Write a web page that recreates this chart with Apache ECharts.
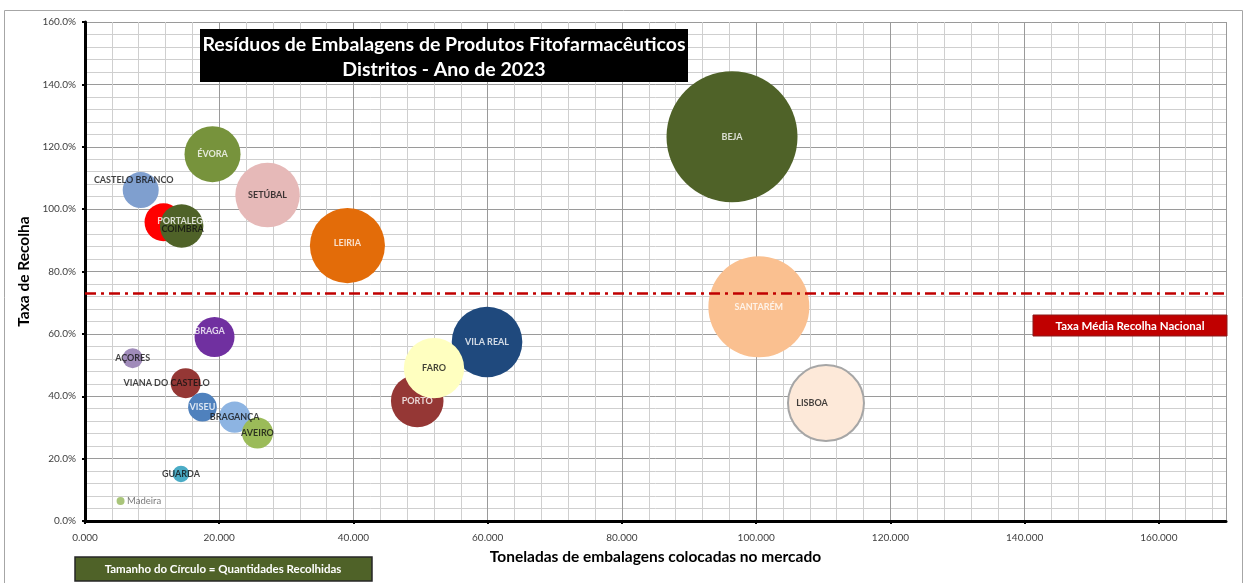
<!DOCTYPE html>
<html>
<head>
<meta charset="utf-8">
<script src="https://cdn.jsdelivr.net/npm/echarts@6/dist/echarts.min.js"></script>
<style>
html,body{margin:0;padding:0;background:#fff;}
#chart{width:1247px;height:583px;}
</style>
</head>
<body>
<div id="chart"></div>
<script>
// ---- data ----
const distritos = ['Madeira','GUARDA','AÇORES','CASTELO BRANCO','PORTALEGRE','COIMBRA','ÉVORA','SETÚBAL','BRAGA','VIANA DO CASTELO','VISEU','BRAGANÇA','AVEIRO','LEIRIA','PORTO','VILA REAL','FARO','BEJA','SANTARÉM','LISBOA'];
const colocadas = [5.3,14.3,7.1,8.3,11.7,14.4,19.0,27.2,19.3,15.0,17.5,22.3,25.7,39.1,49.5,59.9,52.0,96.4,100.4,110.4];
const taxaRecolha = [6.4,15.1,52.2,106.1,95.8,94.6,117.6,104.5,59.0,44.2,36.5,33.3,28.2,88.3,38.5,57.4,49.0,123.2,68.7,37.8];
const recolhidas = [0.44,1.9,2.8,9.0,10.0,13.1,21.8,28.9,11.1,6.25,5.7,6.8,6.7,39.1,19.2,34.6,25.3,119.2,70.8,40.1];
const taxaMediaNacional = 73.1;
const xTickStep = 20, xMinorStep = 4, xMax = 170;
const yTickStep = 20, yMinorStep = 4, yMax = 160;

// ---- styles ----
const cores = {
  'Madeira':'#A9C57A','GUARDA':'#4BACC6','AÇORES':'#A08BBA','CASTELO BRANCO':'#7F9FCF',
  'PORTALEGRE':'#FF0000','COIMBRA':'#4F6228','ÉVORA':'#77933C','SETÚBAL':'#E6B9B8',
  'BRAGA':'#7030A0','VIANA DO CASTELO':'#953735','VISEU':'#4F81BD','BRAGANÇA':'#8DB4E2',
  'AVEIRO':'#9BBB59','LEIRIA':'#E36C09','PORTO':'#953735','VILA REAL':'#1F497D',
  'FARO':'#FFFFC0','BEJA':'#4F6228','SANTARÉM':'#FAC090','LISBOA':'#FDE9D9'
};
const brancos = ['ÉVORA','PORTALEGRE','BEJA','SANTARÉM','LEIRIA','VILA REAL','PORTO','BRAGA','VISEU'];
const desloc = {
  'CASTELO BRANCO':[-7,-10],'VIANA DO CASTELO':[-19,0],'PORTALEGRE':[22,-1],'COIMBRA':[1,3],
  'BRAGA':[-5,-6],'LISBOA':[-14,0],'LEIRIA':[0,-3]
};
const FONT = 'Lato';
const K = 6.0;

const chart = echarts.init(document.getElementById('chart'), null, {renderer:'canvas'});

const bubbleData = distritos.map((d,i)=>({
  name:d,
  value:[colocadas[i], taxaRecolha[i], recolhidas[i]],
  itemStyle: d==='LISBOA' ? {color:cores[d], opacity:1, borderColor:'#A6A6A6', borderWidth:2} : {color:cores[d], opacity:1}
}));
const labelData = distritos.map((d,i)=>{
  if (d==='Madeira') {
    return {name:d, value:[colocadas[i], taxaRecolha[i]],
      label:{show:true, position:'right', distance:6, formatter:d, color:'#595959',
        fontFamily:FONT, fontWeight:'normal', fontSize:9.5}};
  }
  return {name:d, value:[colocadas[i], taxaRecolha[i]],
    label:{show:true, position:'inside', formatter:d,
      fontFamily:FONT, fontWeight:'bold', fontSize:9,
      color: brancos.includes(d)?'#FFFFFF':'#111111'}};
});

const option = {
  animation:false,
  backgroundColor:'#fff',
  textStyle:{fontFamily:FONT},
  grid:{left:85, right:21, top:22, bottom:62, containLabel:false},
  xAxis:[
    {type:'value', min:0, max:xMax, interval:xMinorStep, position:'bottom',
     axisLine:{show:false}, axisTick:{show:false}, axisLabel:{show:false},
     splitLine:{show:true, lineStyle:{color:'#CFCFCF', width:1}}},
    {type:'value', min:0, max:xMax, interval:xTickStep, position:'bottom',
     name:'Toneladas de embalagens colocadas no mercado', nameLocation:'middle', nameGap:28,
     nameTextStyle:{fontFamily:FONT, fontWeight:'bold', fontSize:15.5, color:'#000'},
     axisLine:{show:true, onZero:false, lineStyle:{color:'#000', width:3}},
     axisTick:{show:true, length:3, lineStyle:{color:'#000', width:2}},
     axisLabel:{margin:12, fontSize:10, color:'#404040', fontFamily:FONT, showMaxLabel:false,
       formatter:v=>v.toFixed(3)},
     splitLine:{show:true, lineStyle:{color:'#9A9A9A', width:1}}}
  ],
  yAxis:[
    {type:'value', min:0, max:yMax, interval:yMinorStep,
     axisLine:{show:false}, axisTick:{show:false}, axisLabel:{show:false},
     splitLine:{show:true, lineStyle:{color:'#CFCFCF', width:1}}},
    {type:'value', min:0, max:yMax, interval:yTickStep, position:'left',
     name:'Taxa de Recolha', nameLocation:'middle', nameGap:40, nameRotate:90,
     nameTextStyle:{fontFamily:FONT, fontWeight:'bold', fontSize:15.5, color:'#000'},
     axisLine:{show:true, onZero:false, lineStyle:{color:'#000', width:3}},
     axisTick:{show:true, length:3, lineStyle:{color:'#000', width:2}},
     axisLabel:{margin:9, fontSize:10, color:'#404040', fontFamily:FONT,
       formatter:v=>v.toFixed(1)+'%'},
     splitLine:{show:true, lineStyle:{color:'#9A9A9A', width:1}}}
  ],
  series:[
    {type:'scatter', xAxisIndex:1, yAxisIndex:1, z:2,
     symbol:'circle', symbolSize:v=>2*K*Math.sqrt(v[2]),
     data:bubbleData, label:{show:false},
     markLine:{silent:true, symbol:'none', label:{show:false},
       lineStyle:{color:'#C00000', width:2.5, type:[11,5,3,5]},
       data:[{yAxis:taxaMediaNacional}]}},
    {type:'scatter', xAxisIndex:1, yAxisIndex:1, z:4,
     symbolSize:1, itemStyle:{color:'rgba(0,0,0,0)'},
     labelLayout:function(p){
       const o = desloc[distritos[p.dataIndex]] || [0,0];
       return {dx:o[0], dy:o[1], hideOverlap:false};
     },
     data:labelData}
  ],
  graphic:[
    {type:'rect', z:100, shape:{x:4.5, y:10.5, width:1238, height:580},
     style:{fill:'none', stroke:'#A6A6A6', lineWidth:1}},
    {type:'rect', z:100, shape:{x:200, y:29, width:488, height:53}, style:{fill:'#000'}},
    {type:'text', z:101, style:{x:444, y:45, text:'Resíduos de Embalagens de Produtos Fitofarmacêuticos',
        fill:'#fff', font:'bold 19.5px '+FONT, textAlign:'center', textVerticalAlign:'middle'}},
    {type:'text', z:101, style:{x:444, y:70, text:'Distritos - Ano de 2023',
        fill:'#fff', font:'bold 19.5px '+FONT, textAlign:'center', textVerticalAlign:'middle'}},
    {type:'rect', z:100, shape:{x:1033, y:315, width:194, height:21}, style:{fill:'#C00000', stroke:'#8B1A1A', lineWidth:1}},
    {type:'text', z:101, style:{x:1130, y:326, text:'Taxa Média Recolha Nacional',
        fill:'#fff', font:'bold 11.5px '+FONT, textAlign:'center', textVerticalAlign:'middle'}},
    {type:'rect', z:100, shape:{x:75, y:557, width:297, height:24}, style:{fill:'#4F6228', stroke:'#262626', lineWidth:1.5}},
    {type:'text', z:101, style:{x:223, y:569.5, text:'Tamanho do Círculo = Quantidades Recolhidas',
        fill:'#fff', font:'bold 11.5px '+FONT, textAlign:'center', textVerticalAlign:'middle'}}
  ]
};
chart.setOption(option);
</script>
</body>
</html>
